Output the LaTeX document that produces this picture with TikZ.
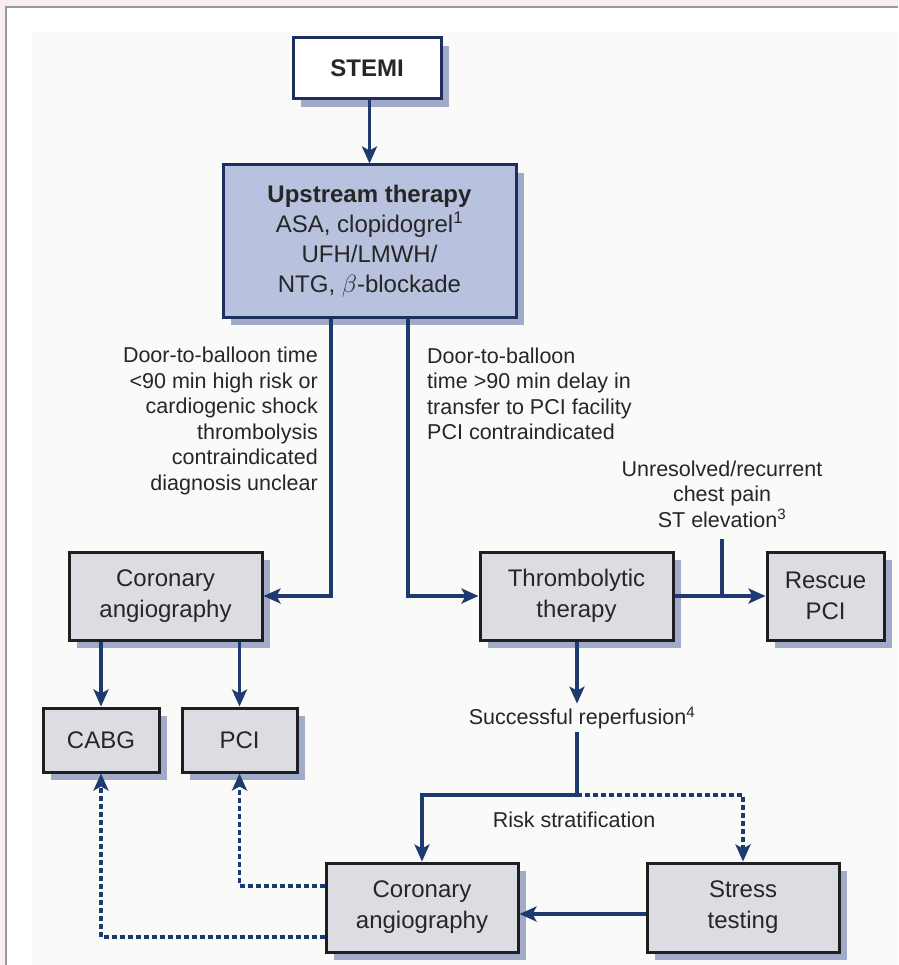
\documentclass[tikz,border=0pt]{standalone}
\usepackage{fontspec}
\setmainfont{Liberation Sans}
\usetikzlibrary{arrows.meta,shadows}

\definecolor{pinkbg}{HTML}{F9EEEF}
\definecolor{framec}{HTML}{9A98A8}
\definecolor{paper}{HTML}{FAFAF8}
\definecolor{navy}{HTML}{1E3A70}
\definecolor{boxnavy}{HTML}{1D2F5E}
\definecolor{boxgray}{HTML}{DCDDE2}
\definecolor{boxblue}{HTML}{B8C1DD}
\definecolor{shadowc}{HTML}{A2AACA}
\definecolor{inkc}{HTML}{262626}

\tikzset{
  basebox/.style={draw, line width=3pt, inner sep=2pt, align=center,
    text=inkc, font=\fontsize{24}{31}\selectfont,
    drop shadow={shadow xshift=8pt, shadow yshift=-8pt, fill=shadowc, opacity=1}},
  graybox/.style={basebox, draw=black!88, fill=boxgray},
  topbox/.style={basebox, draw=boxnavy, fill=white},
  therapybox/.style={basebox, draw=boxnavy, fill=boxblue, font=\fontsize{24}{30}\selectfont},
  lbl/.style={text=inkc, inner sep=0pt, font=\fontsize{21.5}{25.5}\selectfont},
  wire/.style={draw=navy, line width=3.2pt},
  conn/.style={wire, -{Stealth[length=17pt,width=15pt,inset=4pt]}},
  dconn/.style={conn, line width=3.5pt, dash pattern=on 5pt off 3pt},
}

\begin{document}
\begin{tikzpicture}[x=1pt,y=-1pt]
  \useasboundingbox (0,0) rectangle (898,965);
  % page background and frame
  \fill[pinkbg] (0,0) rectangle (898,965);
  \fill[white] (6,7) rectangle (898,965);
  \draw[framec, line width=2pt] (6,965) -- (6,7) -- (898,7);
  \fill[paper] (32,32) rectangle (898,965);

  % boxes
  \node[topbox, minimum width=148pt, minimum height=61pt] (stemi) at (367,68.5)
    {\bfseries STEMI};
  \node[therapybox, minimum width=293pt, minimum height=152pt] (up) at (369.5,241)
    {\textbf{Upstream therapy}\\ASA, clopidogrel\textsuperscript{1}\\UFH/LMWH/\\NTG, $\beta$-blockade};
  \node[graybox, minimum width=193pt, minimum height=88pt] (ca1) at (165.5,596)
    {Coronary\\angiography};
  \node[graybox, minimum width=193pt, minimum height=88pt] (tt) at (576.5,596)
    {Thrombolytic\\therapy};
  \node[graybox, minimum width=117pt, minimum height=88pt] (rp) at (825.5,596)
    {Rescue\\PCI};
  \node[graybox, minimum width=116pt, minimum height=64pt] (cabg) at (101,740) {CABG};
  \node[graybox, minimum width=115pt, minimum height=64pt] (pci) at (239.5,740) {PCI};
  \node[graybox, minimum width=192pt, minimum height=89pt] (ca2) at (422,907.5)
    {Coronary\\angiography};
  \node[graybox, minimum width=192pt, minimum height=89pt] (st) at (743,907.5)
    {Stress\\testing};

  % labels
  \node[lbl, align=right, anchor=east] (lblL) at (318,421)
    {Door-to-balloon time\\<90 min high risk or\\cardiogenic shock\\thrombolysis\\contraindicated\\diagnosis unclear};
  \node[lbl, align=left, anchor=west] (lblR) at (427,394)
    {Door-to-balloon\\time >90 min delay in\\transfer to PCI facility\\PCI contraindicated};
  \node[lbl, align=center] (lblU) at (722,494)
    {Unresolved/recurrent\\chest pain\\ST elevation\textsuperscript{3}};
  \node[lbl, inner sep=3pt] (sr) at (582,718) {Successful reperfusion\textsuperscript{4}};
  \node[lbl] (risk) at (574,820) {Risk stratification};

  % helper coordinates
  \coordinate (xl) at (331,0);
  \coordinate (xr) at (408,0);
  \coordinate (tick) at (722,539);
  \coordinate (split) at (577,795);
  \coordinate (hy) at (0,914);
  \coordinate (d1) at (0,886);
  \coordinate (d2) at (0,937);

  % connectors
  \draw[conn] (stemi.south -| up.north) -- (up.north);
  \draw[conn] (up.south -| xl) |- (ca1.east);
  \draw[conn] (up.south -| xr) |- (tt.west);
  \draw[conn] (tt.east) -- (rp.west);
  \draw[wire] (tick) -- (tick |- tt.east);
  \draw[conn] (ca1.south -| cabg.north) -- (cabg.north);
  \draw[conn] (ca1.south -| pci.north) -- (pci.north);
  \draw[conn] (tt.south -| split) -- (sr.north -| split);
  \draw[wire] (sr.south -| split) -- (split);
  \draw[conn] (split) -| (ca2.north);
  \draw[dconn] (split) -| (st.north);
  \draw[conn] (st.west |- hy) -- (ca2.east |- hy);
  \draw[dconn] (ca2.west |- d1) -| (pci.south);
  \draw[dconn] (ca2.west |- d2) -| (cabg.south);
\end{tikzpicture}
\end{document}
